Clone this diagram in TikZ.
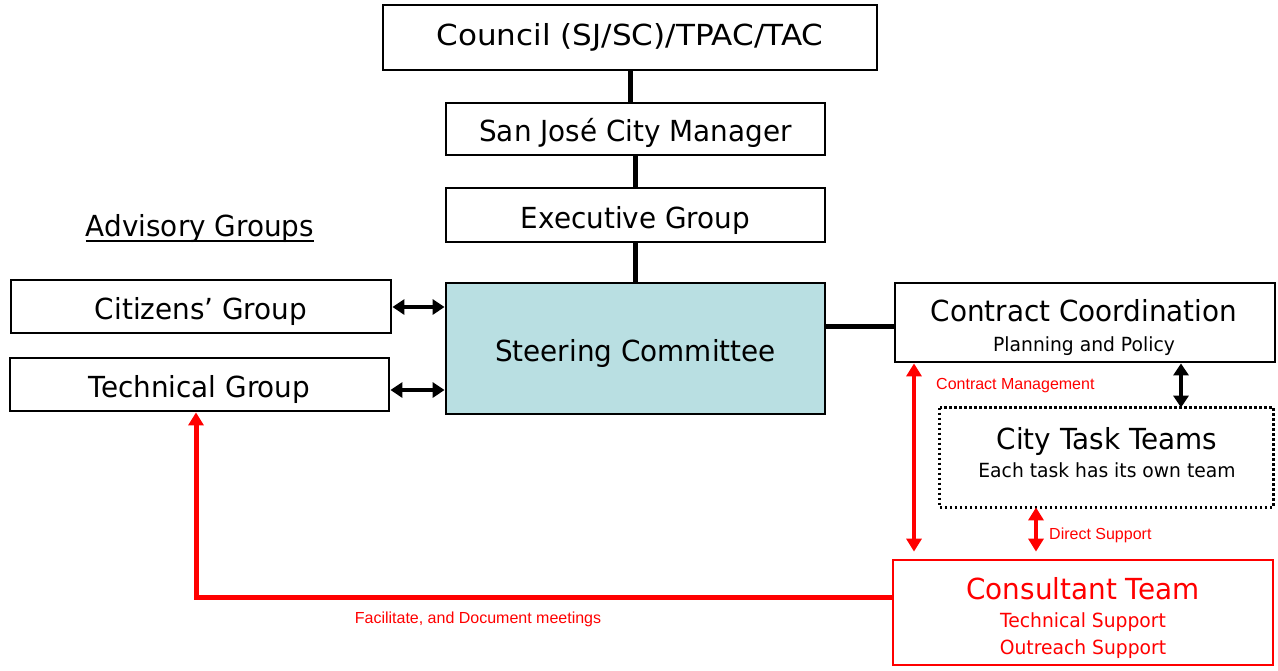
\documentclass[tikz,border=0pt]{standalone}
\usepackage{fontspec}
\setmainfont{DejaVu Sans}[FakeStretch=0.96]
\newfontfamily\widefont{DejaVu Sans}[FakeStretch=1.07]
\newfontfamily\notefont{Liberation Sans}
\usetikzlibrary{arrows.meta}
\definecolor{steelfill}{HTML}{B9DFE2}
\definecolor{linkred}{HTML}{FF0000}

\begin{document}
\begin{tikzpicture}[x=1pt,y=-1pt,
  box/.style={draw=black, line width=2.8pt, fill=white, inner sep=0pt, rectangle},
  bigtext/.style={font=\fontsize{29}{31}\selectfont, inner sep=0pt, anchor=base},
  subtext/.style={font=\fontsize{19.5}{21}\selectfont, inner sep=0pt, anchor=base},
  notetext/.style={font=\notefont\fontsize{16}{18}\selectfont, inner sep=0pt, text=linkred, anchor=base},
  link/.style={line width=5pt, draw=black},
  twoway/.style={line width=4pt, {Triangle[length=12pt,width=15pt]}-{Triangle[length=12pt,width=15pt]}},
  redway/.style={line width=4.5pt, draw=linkred, {Triangle[length=13pt,width=15pt]}-{Triangle[length=13pt,width=15pt]}}
]
\useasboundingbox (0,0) rectangle (1278,670);

% hierarchy boxes
\node[box, minimum width=494pt, minimum height=65pt] (council) at (630,37.5) {};
\node[bigtext, font=\widefont\fontsize{29}{31}\selectfont] (councilT) at (630,45.7) {Council (SJ/SC)/TPAC/TAC};
\node[box, minimum width=379pt, minimum height=52pt] (manager) at (635.5,129) {};
\node[bigtext] (managerT) at (635.5,141) {San José City Manager};
\node[box, minimum width=379pt, minimum height=54pt] (exec) at (635.5,215) {};
\node[bigtext] (execT) at (635.5,228.3) {Executive Group};
\node[box, fill=steelfill, minimum width=379pt, minimum height=131pt] (steer) at (635.5,348.5) {};
\node[bigtext] (steerT) at (635.5,361) {Steering Committee};

% advisory groups
\node[bigtext] (advT) at (200,236.7) {Advisory Groups};
\draw[line width=2pt] (advT.west |- 0,241) -- (advT.east |- 0,241);
\node[box, minimum width=380pt, minimum height=53pt] (citizens) at (201,306.5) {};
\node[bigtext] (citizensT) at (201,319) {Citizens’ Group};
\node[box, minimum width=379pt, minimum height=53pt] (tech) at (199.5,384.5) {};
\node[bigtext] (techT) at (199.5,397.5) {Technical Group};

% contract coordination and task teams
\node[box, minimum width=380pt, minimum height=79pt] (contract) at (1085,322.5) {};
\node[bigtext] (contractT) at (1084,321.7) {Contract Coordination};
\node[subtext] (contractS) at (1084,351.7) {Planning and Policy};
\node[box, draw=none, minimum width=331pt, minimum height=97pt] (tasks) at (1106.5,457.5) {};
\draw[line width=2.8pt, dash pattern=on 2.6pt off 2.4pt] (tasks.north west) rectangle (tasks.south east);
\node[bigtext] (tasksT) at (1107,449) {City Task Teams};
\node[subtext] (tasksS) at (1107,477.3) {Each task has its own team};

% consultant team
\node[box, draw=linkred, minimum width=380pt, minimum height=105pt] (consult) at (1083,612.5) {};
\node[bigtext, text=linkred] (consultT) at (1083,599) {Consultant Team};
\node[subtext, text=linkred] (consultS1) at (1083,627.7) {Technical Support};
\node[subtext, text=linkred] (consultS2) at (1083,654) {Outreach Support};

% solid reporting lines
\draw[link] (council.south) -- (council.south |- manager.north);
\draw[link] (manager.south) -- (exec.north);
\draw[link] (exec.south) -- (steer.north);
\draw[link] (steer.east |- 0,326) -- (contract.west |- 0,326);

% two-way links
\draw[twoway] (citizens.east |- 0,307) -- (steer.west |- 0,307);
\draw[twoway] (tech.east |- 0,390) -- (steer.west |- 0,390);
\draw[twoway] (contract.south -| 1181,0) -- (tasks.north -| 1181,0);
\draw[redway] (contract.south -| 914,0) -- ([yshift=7pt]consult.north -| 914,0);
\draw[redway] (tasks.south -| 1036,0) -- ([yshift=7pt]consult.north -| 1036,0);
\node[notetext, anchor=base west] (mgmtT) at (936,389) {Contract Management};
\node[notetext, anchor=base west] (supportT) at (1049,539.3) {Direct Support};

% facilitation line back to the technical group
\coordinate (bend) at (196,597.5);
\draw[line width=5pt, draw=linkred, -{Triangle[length=13pt,width=15pt]}]
  (consult.west |- bend) -- (bend) -- (tech.south -| bend);
\node[notetext] (facT) at (478,623.3) {Facilitate, and Document meetings};
\end{tikzpicture}
\end{document}
